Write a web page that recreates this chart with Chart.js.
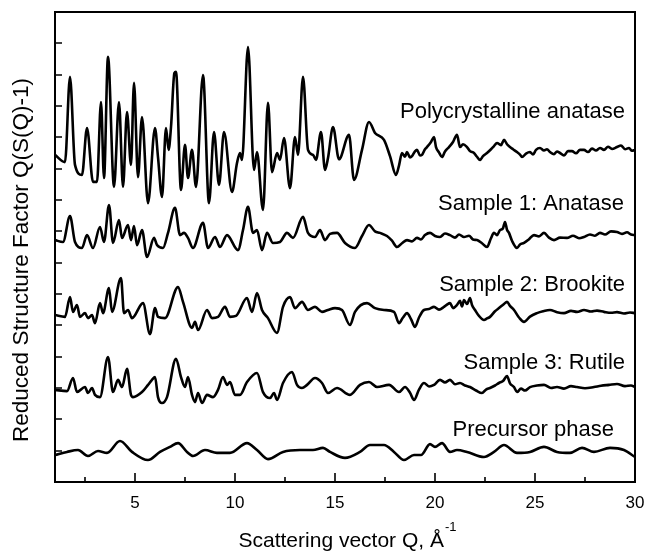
<!DOCTYPE html>
<html>
<head>
<meta charset="utf-8">
<script src="https://cdn.jsdelivr.net/npm/chart.js@4.4.1/dist/chart.umd.min.js"></script>
<style>
  html, body { margin: 0; padding: 0; background: #fff; }
  canvas { display: block; }
</style>
</head>
<body>
<canvas id="sq" width="647" height="552"></canvas>
<script>
// Reduced structure factor Q(S(Q)-1) of the TiO2 samples, curves stacked with offsets

var xTicks = [5, 10, 15, 20, 25, 30];
var xMinorTicks = [2.5, 7.5, 12.5, 17.5, 22.5, 27.5];
var yTicks = [1, 2, 3, 4, 5, 6, 7, 8, 9, 10, 11, 12, 13, 14];

var curveNames = ['Polycrystalline anatase', 'Sample 1: Anatase', 'Sample 2: Brookite', 'Sample 3: Rutile', 'Precursor phase'];

var polyQ = [1.0, 1.5, 1.75, 2.0, 2.35, 2.6, 2.9, 3.1, 3.3, 3.45, 3.65, 3.95, 4.2, 4.4, 4.6, 4.8, 4.95, 5.15, 5.35, 5.65,
  6.0, 6.15, 6.35, 6.55, 6.68, 6.8, 6.97, 7.05, 7.3, 7.5, 7.65, 7.85, 8.05, 8.4, 8.7, 8.95, 9.2, 9.45, 9.85, 10.1,
  10.25, 10.35, 10.65, 10.95, 11.1, 11.4, 11.65, 11.85, 12.1, 12.25, 12.45, 12.75, 13.0, 13.15, 13.4, 13.65, 13.9, 14.05, 14.3, 14.5,
  14.65, 14.9, 15.2, 15.7, 15.95, 16.35, 16.7, 17.0, 17.45, 17.75, 18.05, 18.2, 18.35, 18.5, 18.6, 18.75, 18.85, 19.0, 19.1, 19.25,
  19.35, 19.5, 19.6, 19.8, 19.95, 20.05, 20.2, 20.35, 20.5, 20.7, 20.9, 21.1, 21.25, 21.4, 21.6, 21.75, 21.95, 22.1, 22.25, 22.4,
  22.6, 22.8, 22.95, 23.1, 23.3, 23.45, 23.6, 23.75, 23.9, 24.1, 24.25, 24.35, 24.55, 24.75, 24.9, 25.05, 25.25, 25.45, 25.6, 25.75,
  25.95, 26.1, 26.25, 26.45, 26.65, 26.85, 27.05, 27.25, 27.45, 27.65, 27.85, 28.05, 28.25, 28.45, 28.65, 28.85, 29.1, 29.3, 29.5, 29.7,
  29.85, 30.0];
var polyS = [10.44, 10.21, 12.93, 10.12, 9.80, 11.30, 9.58, 9.58, 12.13, 9.70, 13.57, 9.42, 12.13, 9.42, 11.81, 10.12, 12.74, 9.73, 11.65, 8.90,
  11.30, 10.37, 9.10, 11.30, 10.60, 11.33, 13.05, 13.09, 9.32, 10.76, 9.70, 10.60, 9.42, 12.99, 8.90, 11.17, 9.48, 11.17, 9.26, 10.18,
  10.50, 10.28, 13.88, 9.96, 10.53, 8.68, 12.10, 9.89, 10.50, 10.28, 10.98, 9.38, 11.01, 10.44, 12.93, 10.60, 10.44, 10.28, 11.17, 9.96,
  10.34, 11.33, 10.30, 11.08, 9.64, 10.60, 11.49, 11.14, 10.92, 10.40, 9.80, 10.10, 10.50, 10.38, 10.53, 10.36, 10.40, 10.55, 10.60, 10.42,
  10.44, 10.62, 10.69, 10.85, 11.01, 10.69, 10.52, 10.37, 10.55, 10.69, 10.85, 11.08, 10.69, 10.78, 10.69, 10.56, 10.50, 10.38, 10.28, 10.40,
  10.50, 10.62, 10.72, 10.82, 10.75, 10.92, 10.78, 10.69, 10.62, 10.53, 10.45, 10.37, 10.48, 10.53, 10.45, 10.60, 10.66, 10.58, 10.62, 10.53,
  10.46, 10.55, 10.50, 10.42, 10.56, 10.56, 10.49, 10.60, 10.60, 10.53, 10.64, 10.58, 10.66, 10.60, 10.70, 10.63, 10.69, 10.74, 10.62, 10.66,
  10.57, 10.60];

var anataseQ = [1.0, 1.4, 1.75, 2.0, 2.35, 2.6, 2.9, 3.25, 3.45, 3.7, 3.9, 4.2, 4.35, 4.65, 4.8, 4.95, 5.1, 5.35, 5.6, 5.95,
  6.1, 6.4, 6.65, 7.0, 7.25, 7.45, 7.65, 7.9, 8.4, 8.65, 9.0, 9.25, 9.6, 10.15, 10.4, 10.65, 10.9, 11.1, 11.35, 11.6,
  11.9, 12.25, 12.6, 12.9, 13.4, 13.65, 14.0, 14.25, 14.5, 14.75, 15.1, 15.5, 16.0, 16.35, 16.7, 17.0, 17.25, 17.6, 17.85, 18.1,
  18.35, 18.6, 18.85, 19.1, 19.3, 19.5, 19.75, 20.0, 20.25, 20.5, 20.75, 21.0, 21.2, 21.45, 21.7, 21.9, 22.1, 22.35, 22.6, 22.8,
  22.95, 23.1, 23.25, 23.4, 23.5, 23.6, 23.7, 23.85, 24.1, 24.25, 24.45, 24.7, 24.95, 25.2, 25.45, 25.7, 25.95, 26.25, 26.6, 26.9,
  27.2, 27.45, 27.75, 28.0, 28.25, 28.5, 28.8, 29.1, 29.35, 29.6, 29.8, 30.0];
var anataseS = [7.72, 7.66, 8.49, 7.66, 7.47, 7.88, 7.47, 8.14, 7.66, 8.84, 7.63, 8.36, 7.79, 8.20, 7.72, 8.17, 7.56, 8.04, 7.18, 7.79,
  7.56, 7.47, 7.95, 8.75, 7.88, 7.95, 7.79, 7.47, 8.27, 7.47, 7.82, 7.50, 7.88, 7.40, 8.04, 8.78, 7.95, 8.04, 7.40, 7.95,
  7.63, 7.66, 7.95, 7.79, 8.46, 7.95, 7.82, 8.04, 7.72, 7.92, 7.95, 7.63, 7.47, 7.85, 8.20, 8.00, 7.95, 7.85, 7.70, 7.50,
  7.62, 7.72, 7.68, 7.79, 7.74, 7.88, 7.95, 7.85, 7.82, 7.93, 7.88, 7.80, 7.90, 7.82, 7.86, 7.74, 7.72, 7.62, 7.50, 7.78,
  7.95, 7.88, 8.04, 8.10, 8.30, 8.05, 7.95, 7.70, 7.47, 7.58, 7.63, 7.75, 7.88, 7.84, 7.95, 7.80, 7.72, 7.80, 7.79, 7.86,
  7.78, 7.82, 7.90, 7.86, 7.95, 7.90, 8.00, 7.98, 7.92, 7.97, 7.90, 7.88];

var brookiteQ = [1.0, 1.5, 1.75, 1.9, 2.1, 2.25, 2.5, 2.65, 2.85, 3.0, 3.25, 3.4, 3.7, 3.85, 4.3, 4.45, 4.65, 4.85, 5.4, 5.75,
  6.0, 6.15, 6.5, 7.15, 7.4, 7.85, 8.0, 8.15, 8.6, 8.85, 9.15, 9.5, 9.75, 10.05, 10.6, 10.85, 11.1, 11.35, 11.65, 12.1,
  12.4, 12.75, 13.0, 13.35, 13.65, 14.0, 14.35, 14.65, 15.0, 15.35, 15.75, 16.0, 16.6, 17.0, 17.45, 17.95, 18.2, 18.4, 18.6, 18.8,
  19.0, 19.2, 19.45, 19.7, 19.95, 20.2, 20.45, 20.6, 20.75, 20.9, 21.1, 21.25, 21.35, 21.45, 21.6, 21.75, 21.85, 22.0, 22.2, 22.45,
  22.6, 22.75, 23.0, 23.2, 23.45, 23.6, 23.75, 23.95, 24.2, 24.45, 24.75, 25.1, 25.4, 25.75, 26.1, 26.45, 26.8, 27.1, 27.45, 27.8,
  28.1, 28.45, 28.8, 29.1, 29.45, 29.75, 30.0];
var brookiteS = [5.33, 5.27, 5.90, 5.43, 5.65, 5.27, 5.39, 5.23, 5.33, 5.07, 5.71, 5.39, 6.19, 5.43, 6.51, 5.39, 5.49, 5.23, 5.71, 4.72,
  5.55, 5.27, 5.23, 6.22, 5.75, 4.92, 5.11, 4.85, 5.49, 5.23, 5.27, 5.59, 5.27, 5.30, 5.87, 5.43, 6.03, 5.49, 5.23, 4.76,
  5.59, 5.90, 5.55, 5.75, 5.49, 5.59, 5.43, 5.49, 5.55, 5.49, 5.01, 5.43, 5.71, 5.55, 5.49, 5.43, 5.07, 5.25, 5.39, 5.20,
  4.95, 5.25, 5.49, 5.52, 5.59, 5.50, 5.59, 5.66, 5.71, 5.55, 5.65, 5.78, 5.60, 5.81, 5.68, 5.87, 5.65, 5.49, 5.30, 5.17,
  5.22, 5.27, 5.45, 5.55, 5.68, 5.75, 5.62, 5.49, 5.25, 5.11, 5.28, 5.39, 5.45, 5.49, 5.42, 5.39, 5.46, 5.43, 5.49, 5.44,
  5.47, 5.43, 5.40, 5.42, 5.38, 5.41, 5.39];

var rutileQ = [1.0, 1.6, 1.9, 2.1, 2.5, 2.65, 2.85, 3.0, 3.25, 3.65, 3.9, 4.15, 4.35, 4.6, 4.8, 4.9, 5.35, 5.65, 5.85, 6.0,
  6.15, 6.35, 6.6, 7.05, 7.3, 7.5, 7.65, 7.85, 8.0, 8.15, 8.35, 8.6, 8.9, 9.15, 9.4, 9.6, 9.75, 10.0, 10.25, 10.6,
  11.1, 11.4, 11.75, 11.95, 12.1, 12.4, 12.85, 13.1, 13.35, 13.6, 14.0, 14.35, 14.65, 15.1, 15.75, 16.25, 16.7, 17.1, 17.7, 18.2,
  18.5, 18.75, 18.95, 19.2, 19.45, 19.7, 19.95, 20.25, 20.5, 20.75, 21.0, 21.25, 21.5, 21.75, 22.05, 22.35, 22.55, 22.75, 23.0, 23.2,
  23.4, 23.6, 23.75, 23.95, 24.1, 24.3, 24.5, 24.75, 25.1, 25.45, 25.8, 26.1, 26.45, 26.8, 27.1, 27.5, 27.95, 28.3, 28.7, 29.1,
  29.5, 29.8, 30.0];
var rutileS = [2.94, 2.90, 3.32, 2.87, 3.03, 2.84, 3.00, 2.78, 2.71, 3.99, 2.87, 3.26, 3.03, 3.61, 2.78, 2.71, 2.87, 3.10, 3.26, 3.35,
  2.71, 2.52, 2.71, 3.93, 3.35, 3.03, 3.35, 2.78, 2.55, 2.84, 2.52, 2.78, 2.71, 2.94, 3.35, 3.10, 3.19, 2.78, 2.78, 3.19,
  3.48, 2.87, 2.68, 2.84, 2.62, 3.16, 3.51, 3.10, 3.00, 3.10, 3.32, 3.16, 2.84, 3.00, 2.78, 3.10, 3.19, 3.03, 3.10, 2.87,
  3.03, 2.85, 2.62, 2.95, 3.16, 3.05, 3.10, 3.26, 3.18, 3.26, 3.12, 3.16, 3.08, 3.03, 2.92, 2.84, 2.95, 3.00, 3.08, 3.16,
  3.22, 3.38, 3.15, 3.03, 2.87, 2.98, 2.92, 3.03, 3.08, 3.10, 3.00, 3.03, 2.98, 3.06, 3.03, 2.99, 3.03, 3.07, 3.10, 3.13,
  3.06, 3.08, 3.03];

var precursorQ = [1.0, 1.6, 2.15, 2.65, 3.15, 3.6, 4.25, 4.85, 5.65, 6.25, 6.75, 7.15, 7.6, 7.9, 8.5, 9.1, 9.75, 10.6, 11.1, 11.65,
  12.4, 13.25, 13.9, 14.4, 14.75, 15.5, 16.25, 16.75, 17.45, 17.95, 18.45, 18.95, 19.3, 19.75, 20.0, 20.35, 20.75, 21.1, 21.6, 22.45,
  22.95, 23.45, 24.1, 24.75, 25.45, 26.1, 26.75, 27.35, 27.95, 28.75, 29.45, 30.0];
var precursorS = [0.86, 0.96, 1.02, 0.83, 0.99, 0.93, 1.31, 0.96, 0.70, 0.96, 1.12, 1.24, 0.96, 0.83, 1.02, 0.93, 0.93, 1.24, 1.02, 0.73,
  0.96, 1.02, 1.02, 1.09, 0.96, 0.77, 0.96, 1.18, 1.18, 0.96, 0.70, 0.86, 0.86, 1.21, 1.12, 1.24, 0.96, 1.02, 0.96, 0.80,
  0.96, 1.18, 0.93, 0.96, 1.12, 0.96, 0.93, 1.09, 0.96, 1.09, 1.02, 0.80];

// where each curve's name sits (right edge, baseline) in axis units
var nameAnchors = [[29.5, 11.62], [29.45, 8.68], [29.5, 6.11], [29.5, 3.61], [28.95, 1.47]];

var FONT = '"Liberation Sans", Arial, Helvetica, sans-serif';

function toPoints(qs, ss) {
  return qs.map(function (q, i) { return { x: q, y: ss[i] }; });
}

var curves = [[polyQ, polyS], [anataseQ, anataseS], [brookiteQ, brookiteS], [rutileQ, rutileS], [precursorQ, precursorS]];

var frameAndText = {
  id: 'frameAndText',
  afterDraw: function (chart) {
    var ctx = chart.ctx;
    var area = chart.chartArea;
    var xs = chart.scales.x, ys = chart.scales.y;
    ctx.save();
    ctx.strokeStyle = '#000';
    ctx.lineWidth = 2;
    ctx.strokeRect(area.left, area.top, area.right - area.left, area.bottom - area.top);

    // inward tick marks
    ctx.lineWidth = 1.6;
    ctx.beginPath();
    xTicks.forEach(function (v) {
      var px = Math.round(xs.getPixelForValue(v));
      ctx.moveTo(px, area.bottom);
      ctx.lineTo(px, area.bottom - 9);
    });
    xMinorTicks.forEach(function (v) {
      var px = Math.round(xs.getPixelForValue(v));
      ctx.moveTo(px, area.bottom);
      ctx.lineTo(px, area.bottom - 5);
    });
    yTicks.forEach(function (v) {
      var py = Math.round(ys.getPixelForValue(v));
      ctx.moveTo(area.left, py);
      ctx.lineTo(area.left + 7, py);
    });
    ctx.stroke();

    ctx.fillStyle = '#000';

    // curve names
    ctx.font = '22px ' + FONT;
    ctx.textAlign = 'right';
    ctx.textBaseline = 'alphabetic';
    curveNames.forEach(function (name, i) {
      ctx.fillText(name, xs.getPixelForValue(nameAnchors[i][0]), ys.getPixelForValue(nameAnchors[i][1]));
    });

    // x axis title with superscript unit
    var main = 'Scattering vector Q, \u00C5';
    var sup = '-1';
    ctx.font = '21px ' + FONT;
    var wMain = ctx.measureText(main).width;
    ctx.font = '13px ' + FONT;
    var wSup = ctx.measureText(sup).width;
    var cx = (area.left + area.right) / 2 + 2;
    var x0 = cx - (wMain + wSup) / 2;
    ctx.textAlign = 'left';
    ctx.font = '21px ' + FONT;
    ctx.fillText(main, x0, 547);
    ctx.font = '13px ' + FONT;
    ctx.fillText(sup, x0 + wMain + 1, 531);

    // y axis title
    ctx.translate(22, 260);
    ctx.rotate(-Math.PI / 2);
    ctx.font = '22.5px ' + FONT;
    ctx.textAlign = 'center';
    ctx.textBaseline = 'middle';
    ctx.fillText('Reduced Structure Factor Q(S(Q)-1)', 0, 0);
    ctx.restore();
  }
};

new Chart(document.getElementById('sq'), {
  type: 'line',
  data: {
    datasets: curves.map(function (c, i) {
      return {
        label: curveNames[i],
        data: toPoints(c[0], c[1]),
        borderColor: '#000',
        borderWidth: 2.6,
        borderJoinStyle: 'round',
        pointRadius: 0,
        cubicInterpolationMode: 'monotone',
        fill: false
      };
    })
  },
  options: {
    responsive: false,
    animation: false,
    events: [],
    layout: { padding: { top: 12, right: 12, left: 0, bottom: 0 } },
    plugins: { legend: { display: false }, tooltip: { enabled: false } },
    scales: {
      x: {
        type: 'linear',
        min: 1,
        max: 30,
        grid: { display: false, drawTicks: false },
        border: { display: false },
        afterBuildTicks: function (scale) {
          scale.ticks = xTicks.map(function (v) { return { value: v }; });
        },
        afterFit: function (scale) {
          scale.height = 70;
          scale.paddingLeft = 0;
          scale.paddingRight = 0;
        },
        ticks: {
          color: '#000',
          padding: 11,
          maxRotation: 0,
          font: { family: FONT, size: 17 }
        }
      },
      y: {
        type: 'linear',
        min: 0,
        max: 15,
        grid: { display: false, drawTicks: false },
        border: { display: false },
        afterFit: function (scale) {
          scale.width = 55;
          scale.paddingTop = 0;
          scale.paddingBottom = 0;
        },
        ticks: { display: false }
      }
    }
  },
  plugins: [frameAndText]
});
</script>
</body>
</html>
